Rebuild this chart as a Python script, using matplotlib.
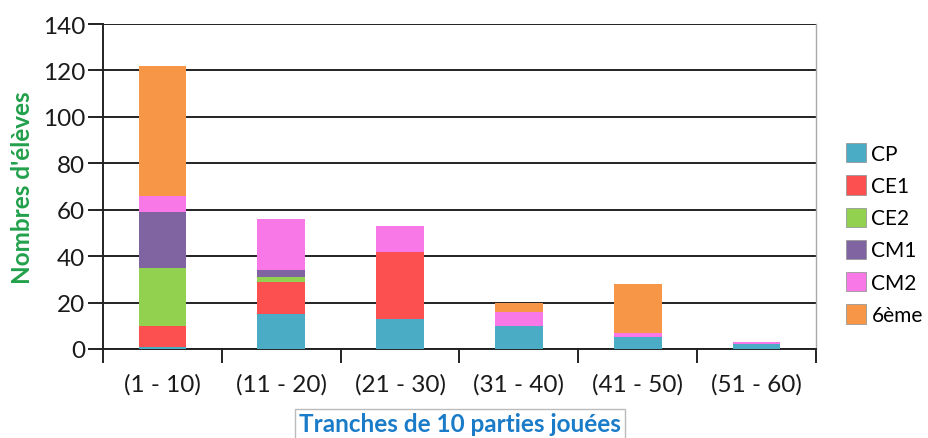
import matplotlib
matplotlib.use("Agg")
import matplotlib.pyplot as plt
import numpy as np
from matplotlib.ticker import FixedLocator

plt.rcParams['font.family'] = ['Lato', 'DejaVu Sans']

categories = ["(1 - 10)", "(11 - 20)", "(21 - 30)", "(31 - 40)", "(41 - 50)", "(51 - 60)"]
series_names = ["CP", "CE1", "CE2", "CM1", "CM2", "6ème"]
cp = [1, 15, 13, 10, 5, 2]
ce1 = [9, 14, 29, 0, 0, 0]
ce2 = [25, 2, 0, 0, 0, 0]
cm1 = [24, 3, 0, 0, 0, 0]
cm2 = [7, 22, 11, 6, 2, 1]
sixieme = [56, 0, 0, 4, 21, 0]
colors = ["#4bacc6", "#fc5050", "#92d050", "#8064a2", "#f878e8", "#f79646"]

series = [cp, ce1, ce2, cm1, cm2, sixieme]

fig = plt.figure(figsize=(9.29, 4.39), dpi=100)
ax = fig.add_axes([103/929, 1-350/439, (816-103)/929, (350-25)/439])

x = np.arange(len(categories))
bottom = np.zeros(len(categories))
for name, vals, c in zip(series_names, series, colors):
    ax.bar(x, vals, width=0.40, bottom=bottom, color=c, label=name, zorder=3,
           edgecolor=c, linewidth=0)
    bottom += np.array(vals)

ax.set_xlim(-0.5, len(categories) - 0.5)
ax.set_ylim(0, 140)
ax.set_yticks(np.arange(0, 141, 20))
ax.yaxis.grid(True, color="#222222", linewidth=1.4, zorder=0)
ax.set_axisbelow(True)

ax.set_xticks(x)
ax.set_xticklabels(categories, fontsize=17.5, color="#1a1a1a")
ax.tick_params(axis='x', which='major', length=0, pad=17)
ax.xaxis.set_minor_locator(FixedLocator(np.arange(-0.5, len(categories), 1.0)))
ax.tick_params(axis='x', which='minor', length=10, width=1.4, color="#222222", direction='out')
ax.tick_params(axis='y', length=11, width=1.4, color="#222222", labelsize=17.5, labelcolor="#1a1a1a", pad=2)

for s in ["left", "bottom"]:
    ax.spines[s].set_color("#222222")
    ax.spines[s].set_linewidth(1.4)
ax.spines["top"].set_visible(False)
ax.spines["right"].set_color("#aaaaaa")
ax.spines["right"].set_linewidth(1.0)

ax.set_ylabel("Nombres d'élèves", color="#22a04b", fontsize=17.5, fontweight='bold', labelpad=6)

fig.text(460/929, 1-425/439, "Tranches de 10 parties jouées",
         ha='center', va='center', color="#1a7cc8", fontsize=17.5, fontweight='bold',
         bbox=dict(boxstyle='square,pad=0.15', facecolor='white', edgecolor='#bbbbbb', linewidth=1))

handles, labels = ax.get_legend_handles_labels()
leg = fig.legend(handles, labels, loc='center left', bbox_to_anchor=(836/929, 1-235/439),
                 frameon=False, fontsize=15, handlelength=0.95, handleheight=1.05,
                 handletextpad=0.25, labelspacing=0.55, borderpad=0)
for p in leg.get_patches():
    p.set_edgecolor("#999999")
    p.set_linewidth(0.6)

fig.savefig("out.png", dpi=100)
